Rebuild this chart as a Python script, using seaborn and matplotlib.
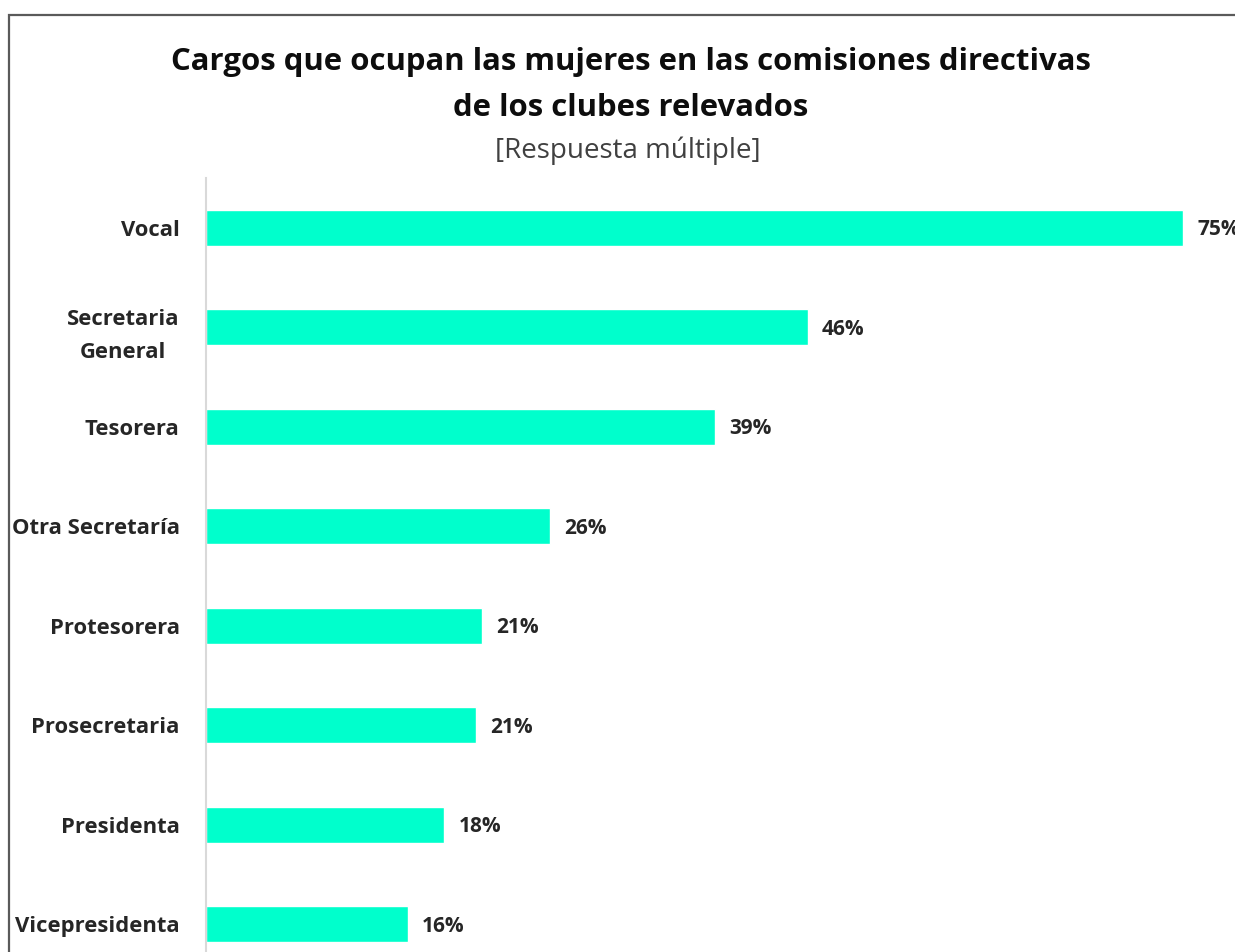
import matplotlib
matplotlib.use("Agg")
import matplotlib.pyplot as plt
import seaborn as sns
import pandas as pd
from matplotlib.patches import Rectangle

categories = ["Vocal", "Secretaria\nGeneral", "Tesorera", "Otra Secretaría",
              "Protesorera", "Prosecretaria", "Presidenta", "Vicepresidenta"]
values = [75.0, 46.2, 39.1, 26.4, 21.2, 20.7, 18.3, 15.5]
title = "Cargos que ocupan las mujeres en las comisiones directivas\nde los clubes relevados"
subtitle = "[Respuesta múltiple]"

sns.set_theme(style="white")
plt.rcParams['font.family'] = ['Open Sans', 'DejaVu Sans']

W, H = 1235, 952
fig = plt.figure(figsize=(W / 100, H / 100), dpi=100)
fig.patch.set_facecolor("white")

# outer frame
fig.patches.append(Rectangle((9 / W, -0.1), 1.2, 1 - 15 / H + 0.1, transform=fig.transFigure,
                             fill=False, edgecolor="#5a5a5a", linewidth=1.6, zorder=0))

ax = fig.add_axes([206 / W, -22 / H, 1029 / W, (974 - 178) / H])
df = pd.DataFrame({"cat": categories, "val": values})
sns.barplot(data=df, y="cat", x="val", orient="h", color="#00FFCC", saturation=1,
            width=0.36, ax=ax)
ax.set_xlim(0, 79)
ax.set_xlabel("")
ax.set_ylabel("")
ax.set_xticks([])
for s in ["top", "right", "bottom"]:
    ax.spines[s].set_visible(False)
ax.spines["left"].set_color("#d9d9d9")
ax.spines["left"].set_linewidth(1.5)
ax.tick_params(axis="y", length=0, pad=19)
for lab in ax.get_yticklabels():
    lab.set_fontweight("bold")
    lab.set_fontsize(15.8)
    lab.set_color("#262626")
    lab.set_multialignment("center")
    lab.set_linespacing(1.75)

for i, v in enumerate(values):
    ax.text(v + 1.1, i + 0.02, f"{v:.0f}%", va="center", ha="left", fontsize=15,
            fontweight="bold", color="#262626")

fig.text(631 / W, 1 - 85 / H, title, ha="center", va="center", fontsize=22.4,
         fontweight="bold", color="#0d0d0d", linespacing=1.68)
fig.text(628 / W, 1 - 151 / H, subtitle, ha="center", va="center", fontsize=20,
         color="#404040")

fig.savefig("out.png", dpi=100)
